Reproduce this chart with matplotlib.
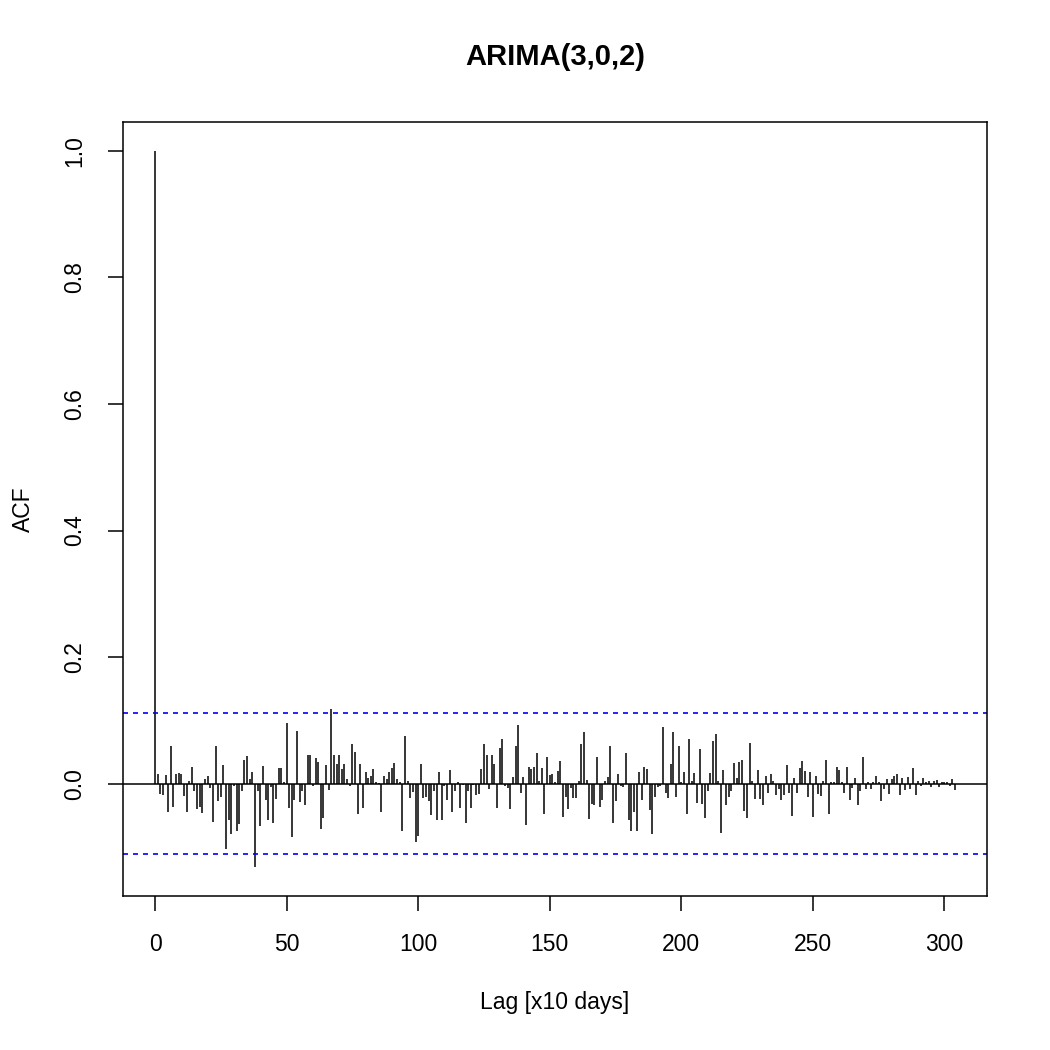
import numpy as np
import matplotlib
matplotlib.use("Agg")
import matplotlib.pyplot as plt

plt.rcParams['font.family'] = ['Liberation Sans', 'DejaVu Sans']

title = "ARIMA(3,0,2)"
xlabel = "Lag [x10 days]"
ylabel = "ACF"
conf_limit = 0.111

acf_values = [
    1.0, 0.016, -0.016, -0.017, 0.014, -0.045, 0.06, -0.036, 0.016, 0.017,
    0.016, -0.019, -0.045, 0.004, 0.026, -0.012, -0.04, -0.037, -0.046, 0.008,
    0.012, -0.007, -0.06, 0.06, -0.027, -0.021, 0.029, -0.103, -0.058, -0.079,
    -0.003, -0.075, -0.063, -0.011, 0.038, 0.044, 0.008, 0.018, -0.132, -0.012,
    -0.066, 0.028, -0.025, -0.057, -0.005, -0.062, -0.024, 0.025, 0.025, 0.003,
    0.096, -0.038, -0.084, -0.025, 0.083, -0.029, -0.012, -0.033, 0.046, 0.045,
    -0.003, 0.041, 0.035, -0.071, -0.054, 0.03, -0.01, 0.118, 0.046, 0.032,
    0.045, 0.024, 0.032, 0.008, -0.003, 0.063, 0.05, -0.048, 0.031, -0.038,
    0.019, 0.009, 0.013, 0.024, 0.003, 0.001, -0.044, 0.012, 0.008, 0.018,
    0.025, 0.033, 0.007, 0.002, -0.074, 0.075, 0.004, -0.022, -0.013, -0.092,
    -0.082, 0.031, -0.022, -0.021, -0.027, -0.05, -0.012, -0.057, 0.018, -0.057,
    -0.003, -0.026, 0.021, -0.044, -0.012, 0.003, -0.039, -0.002, -0.062, -0.012,
    -0.039, -0.002, -0.018, -0.016, 0.023, 0.063, 0.045, -0.008, 0.046, 0.031,
    -0.039, 0.057, 0.071, -0.003, -0.007, -0.04, 0.011, 0.059, 0.093, -0.014,
    0.011, -0.065, 0.026, 0.024, 0.027, 0.048, 0.004, 0.025, -0.048, 0.042,
    0.014, 0.015, 0.002, 0.02, 0.036, -0.053, -0.021, -0.04, -0.007, -0.022,
    -0.022, 0.004, 0.063, 0.082, 0.006, -0.056, -0.032, -0.034, 0.043, -0.037,
    -0.025, 0.005, 0.011, 0.06, -0.062, -0.027, 0.016, -0.004, -0.005, 0.048,
    -0.057, -0.075, -0.045, -0.074, 0.018, -0.026, 0.027, 0.024, -0.042, -0.079,
    -0.021, -0.005, -0.003, 0.09, -0.014, -0.022, 0.031, 0.081, -0.021, 0.059,
    0.002, 0.018, -0.047, 0.07, 0.004, 0.017, -0.03, 0.055, -0.032, -0.054,
    -0.012, 0.017, 0.068, 0.079, 0.004, -0.078, 0.022, -0.034, -0.021, -0.012,
    0.033, 0.009, 0.035, 0.038, -0.043, -0.054, 0.064, 0.004, -0.024, 0.022,
    -0.024, -0.033, 0.012, -0.015, 0.016, 0.004, -0.017, -0.009, -0.026, -0.018,
    0.03, -0.015, -0.051, 0.009, -0.015, 0.025, 0.036, 0.02, -0.021, 0.018,
    -0.053, 0.012, -0.016, -0.02, 0.004, 0.038, -0.048, 0.003, 0.003, 0.027,
    0.022, 0.002, -0.014, 0.027, -0.025, -0.006, 0.009, -0.033, -0.012, 0.042,
    -0.008, 0.003, -0.008, 0.003, 0.013, 0.003, -0.027, -0.009, 0.008, -0.016,
    0.008, 0.012, 0.015, -0.018, 0.009, -0.01, 0.011, -0.009, 0.025, -0.017,
    0.005, -0.004, 0.009, 0.003, 0.005, -0.005, 0.004, 0.006, -0.005, 0.003,
    0.003, 0.003, -0.004, 0.007, -0.01,
]
lags = np.arange(len(acf_values))

x_ticks = [0, 50, 100, 150, 200, 250, 300]
y_ticks = [0.0, 0.2, 0.4, 0.6, 0.8, 1.0]
y_ticklabels = ["0.0", "0.2", "0.4", "0.6", "0.8", "1.0"]

fig = plt.figure(figsize=(10.5, 10.5), dpi=100)
ax = fig.add_axes([123/1050, 1 - 896/1050, (987-123)/1050, (896-122)/1050])

ax.vlines(lags, 0, acf_values, colors='black', linewidth=1.1)
ax.axhline(0, color='black', linewidth=1.1)
ax.axhline(conf_limit, color='blue', linestyle=(0, (3.0, 3.0)), linewidth=1.2)
ax.axhline(-conf_limit, color='blue', linestyle=(0, (3.0, 3.0)), linewidth=1.2)

n = len(acf_values) - 1
ax.set_xlim(-0.04 * n, n * 1.04)
ymin = min(min(acf_values), -conf_limit)
ymax = max(max(acf_values), conf_limit)
rng = ymax - ymin
ax.set_ylim(ymin - 0.04 * rng, ymax + 0.04 * rng)

ax.set_xticks(x_ticks)
ax.set_xticklabels([str(t) for t in x_ticks], fontsize=16.5)
ax.set_yticks(y_ticks)
ax.set_yticklabels(y_ticklabels, fontsize=16.5, rotation=90, va='center')
ax.tick_params(direction='out', length=10.8, width=1.1, pad=16)

for sp in ax.spines.values():
    sp.set_linewidth(1.1)

fig.text(555/1050, 1 - 57/1050, title, ha='center', va='center',
         fontsize=21, fontweight='bold')
fig.text(555/1050, 1 - 1003/1050, xlabel, ha='center', va='center', fontsize=16.5)
fig.text(23/1050, 1 - 509/1050, ylabel, ha='center', va='center', fontsize=16.5,
         rotation=90)

fig.savefig("out.png", dpi=100)
